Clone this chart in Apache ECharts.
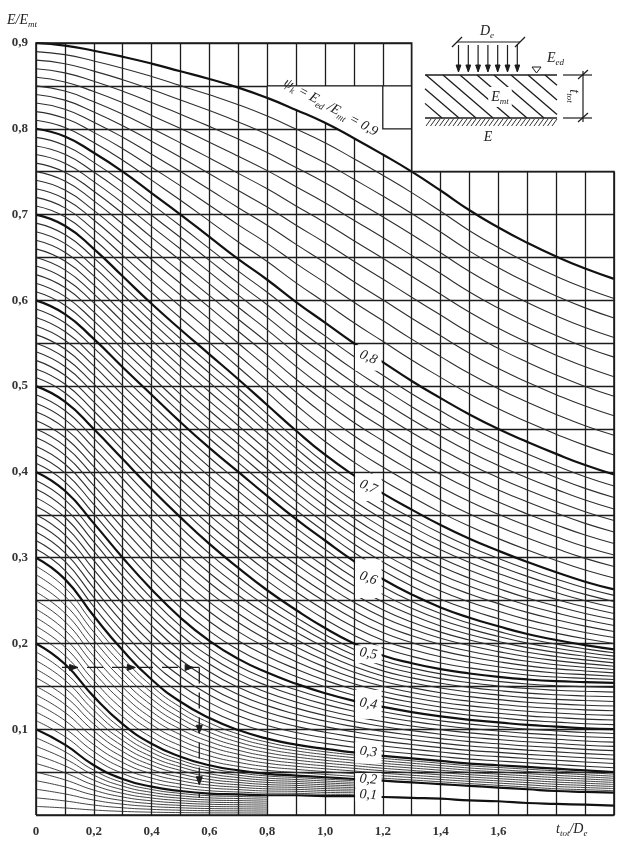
<!DOCTYPE html>
<html>
<head>
<meta charset="utf-8">
<title>E/Emt - ttot/De</title>
<script src="https://cdn.jsdelivr.net/npm/echarts@6/dist/echarts.min.js"></script>
<style>
html, body { margin: 0; padding: 0; background: #fff; }
#main { width: 632px; height: 851px; }
</style>
</head>
<body>
<div id="main"></div>
<script>
//=============== values ===============
// t_tot / D_e
var xs = [0, 0.1, 0.2, 0.3, 0.4, 0.5, 0.6, 0.7, 0.8, 0.9, 1.0, 1.1, 1.2, 1.3, 1.4, 1.5, 1.6, 1.7, 1.8, 1.9, 2.0];

// E / E_mt for the printed curves psi_k = 0,9 ... 0,1
var psi09 = [0.900, 0.897, 0.891, 0.884, 0.876, 0.867, 0.858, 0.848, 0.836, 0.822, 0.807, 0.789, 0.770, 0.750, 0.728, 0.705, 0.685, 0.667, 0.651, 0.637, 0.625];
var psi08 = [0.800, 0.791, 0.772, 0.750, 0.725, 0.700, 0.674, 0.648, 0.624, 0.598, 0.574, 0.550, 0.528, 0.506, 0.486, 0.467, 0.450, 0.435, 0.421, 0.408, 0.397];
var psi07 = [0.700, 0.687, 0.660, 0.628, 0.596, 0.566, 0.537, 0.508, 0.478, 0.448, 0.420, 0.396, 0.375, 0.356, 0.338, 0.322, 0.308, 0.295, 0.283, 0.272, 0.263];
var psi06 = [0.600, 0.584, 0.555, 0.522, 0.490, 0.458, 0.428, 0.400, 0.372, 0.345, 0.320, 0.296, 0.275, 0.257, 0.242, 0.230, 0.220, 0.211, 0.204, 0.198, 0.193];
var psi05 = [0.500, 0.482, 0.450, 0.415, 0.380, 0.347, 0.316, 0.288, 0.262, 0.239, 0.218, 0.200, 0.186, 0.177, 0.170, 0.165, 0.161, 0.158, 0.156, 0.155, 0.154];
var psi04 = [0.400, 0.378, 0.340, 0.300, 0.263, 0.230, 0.203, 0.182, 0.166, 0.153, 0.142, 0.133, 0.126, 0.120, 0.115, 0.111, 0.108, 0.105, 0.103, 0.101, 0.100];
var psi03 = [0.300, 0.275, 0.232, 0.192, 0.158, 0.132, 0.113, 0.099, 0.089, 0.082, 0.077, 0.073, 0.069, 0.066, 0.063, 0.060, 0.058, 0.056, 0.054, 0.052, 0.050];
var psi02 = [0.200, 0.176, 0.138, 0.106, 0.083, 0.068, 0.058, 0.052, 0.048, 0.046, 0.044, 0.042, 0.040, 0.038, 0.036, 0.034, 0.032, 0.030, 0.028, 0.027, 0.026];
var psi01 = [0.100, 0.082, 0.058, 0.042, 0.033, 0.028, 0.025, 0.024, 0.023, 0.023, 0.022, 0.022, 0.021, 0.020, 0.019, 0.017, 0.016, 0.014, 0.013, 0.012, 0.011];

var curveLabels = ['0,1', '0,2', '0,3', '0,4', '0,5', '0,6', '0,7', '0,8'];
var xTickLabels = ['0', '0,2', '0,4', '0,6', '0,8', '1,0', '1,2', '1,4', '1,6'];
var yTickLabels = ['0,1', '0,2', '0,3', '0,4', '0,5', '0,6', '0,7', '0,8', '0,9'];

// worked example drawn with arrows
var exampleE = 0.172;
var exampleT = 0.565;

//=============== chart ===============
var ink = '#1c1c1c';
var serif = '"Liberation Serif", "DejaVu Serif", serif';
var thick = [psi01, psi02, psi03, psi04, psi05, psi06, psi07, psi08, psi09];
var zero = xs.map(function () { return 0; });
var bands = [zero].concat(thick);
// the intermediate 0,01 lines of the two lowest bands stop where they crowd together
var thinEnd = [0.8, 1.1, 2, 2, 2, 2, 2, 2, 2];

function curve(pts, w, col) {
    return {
        type: 'line',
        data: pts,
        smooth: true,
        symbol: 'none',
        silent: true,
        z: 2,
        lineStyle: { color: col, width: w }
    };
}

var series = [];
for (var b = 0; b < 9; b++) {
    var lo = bands[b], hi = bands[b + 1];
    for (var k = 1; k <= 9; k++) {
        var pts = [];
        for (var i = 0; i < xs.length; i++) {
            if (xs[i] > thinEnd[b] + 1e-9) break;
            pts.push([xs[i], lo[i] + (hi[i] - lo[i]) * k / 10]);
        }
        series.push(curve(pts, b < 3 ? 0.9 : 1.1, '#2e2e2e'));
    }
    series.push(curve(xs.map(function (x, i) { return [x, hi[i]]; }), 2.2, '#111'));
}

var dom = document.getElementById('main');
var myChart = echarts.init(dom);
var option = {
    animation: false,
    backgroundColor: '#fff',
    grid: { left: 36, right: 18, top: 43, bottom: 36 },
    xAxis: {
        type: 'value', min: 0, max: 2, interval: 0.1,
        axisLine: { show: false }, axisTick: { show: false },
        axisLabel: {
            margin: 10, fontFamily: serif, fontSize: 13, fontWeight: 'bold', color: '#333',
            formatter: function (v) {
                var k = Math.round(v * 10);
                if (k % 2 || k > 16) return '';
                return xTickLabels[k / 2];
            }
        },
        splitLine: { show: true, lineStyle: { color: ink, width: 1.3 } }
    },
    yAxis: {
        type: 'value', min: 0, max: 0.9, interval: 0.05,
        axisLine: { show: false }, axisTick: { show: false },
        axisLabel: {
            margin: 8, fontFamily: serif, fontSize: 13, fontWeight: 'bold', color: '#333',
            formatter: function (v) {
                var k = Math.round(v * 100);
                if (k % 10 || k === 0) return '';
                return yTickLabels[k / 10 - 1];
            }
        },
        splitLine: { show: true, lineStyle: { color: ink, width: 1.3 } }
    },
    series: series
};
myChart.setOption(option);

//=============== overlays ===============
function P(x, y) { return myChart.convertToPixel({ gridIndex: 0 }, [x, y]); }
var els = [];
function line(pts, w, z, dash) {
    els.push({ type: 'polyline', silent: true, z: z, shape: { points: pts },
        style: { stroke: ink, lineWidth: w, fill: null, lineDash: dash || null } });
}
function tri(pts, z, fill) {
    els.push({ type: 'polygon', silent: true, z: z, shape: { points: pts },
        style: { fill: fill || ink, stroke: ink, lineWidth: 1 } });
}
function text(x, y, str, rich, opt) {
    opt = opt || {};
    els.push({ type: 'text', silent: true, z: opt.z || 12, x: x, y: y, rotation: opt.rot || 0,
        style: { text: str, rich: rich, align: opt.align || 'center', verticalAlign: 'middle',
            fill: '#222', fontFamily: serif, fontStyle: 'italic', fontSize: 14,
            backgroundColor: opt.bg || null, padding: opt.pad || 0 } });
}
var rich = {
    i: { fontFamily: serif, fontStyle: 'italic', fontSize: 14, fill: '#222', lineHeight: 18 },
    s: { fontFamily: serif, fontStyle: 'italic', fontSize: 9, fill: '#222', verticalAlign: 'bottom' }
};

// blank area top right (no grid behind the sketch)
var a = P(1.3, 0.9), c = P(2.0, 0.75);
els.push({ type: 'rect', silent: true, z: 1,
    shape: { x: a[0], y: a[1] - 5, width: c[0] - a[0] + 5, height: c[1] - a[1] + 5 },
    style: { fill: '#fff' } });
// blank area above the 0,9 curve where its label sits
var zone = [P(0.8, 0.85), P(1.3, 0.85)];
for (var j = xs.length - 1; j >= 0; j--) {
    if (xs[j] > 0.79 && xs[j] < 1.31) zone.push(P(xs[j], psi09[j]));
}
els.push({ type: 'polygon', silent: true, z: 1, shape: { points: zone }, style: { fill: '#fff' } });

// frame
line([P(0, 0), P(0, 0.9), P(1.3, 0.9), P(1.3, 0.75), P(2, 0.75), P(2, 0), P(0, 0)], 1.6, 3);
line([P(0.8, 0.85), P(1.3, 0.85)], 1.3, 3);
line([P(0.8, 0.85), P(0.8, 0.836)], 1.3, 3);
line([P(1.2, 0.85), P(1.2, 0.8), P(1.3, 0.8)], 1.3, 3);

// white label boxes in the 1,1..1,2 column
var boxes = [[0.016, 0.031, 4], [0.033, 0.050, 5], [0.060, 0.087, 8], [0.112, 0.147, 10],
    [0.177, 0.199, 10], [0.253, 0.299, 20], [0.366, 0.399, 24], [0.518, 0.549, 24]];
boxes.forEach(function (bx, n) {
    var p0 = P(1.1, bx[1]), p1 = P(1.2, bx[0]);
    els.push({ type: 'rect', silent: true, z: 10,
        shape: { x: p0[0] + 1.2, y: p0[1] + 1, width: p1[0] - p0[0] - 2.4, height: p1[1] - p0[1] - 1 },
        style: { fill: '#fff' } });
    text((p0[0] + p1[0]) / 2, (p0[1] + p1[1]) / 2, '{i|' + curveLabels[n] + '}', rich,
        { rot: -bx[2] * Math.PI / 180 });
});

// psi_k label along the top curve
var pl = P(1.02, 0.825);
text(pl[0], pl[1], '{i|ψ}{s|k}{i| = E}{s|ed}{i| /E}{s|mt}{i| = 0,9}', rich, { rot: -29 * Math.PI / 180 });

// axis names
text(7, 20, '{i|E/E}{s|mt}', rich, { align: 'left' });
text(556, 829, '{i|t}{s|tot}{i|/D}{s|e}', rich, { align: 'left' });

// worked example: across at E/Emt, then down to t_tot/De
var ey = P(0, exampleE)[1], ex = P(exampleT, 0)[0];
line([P(0.09, exampleE), [ex, ey]], 1.3, 6, [16, 9]);
line([[ex, ey], P(exampleT, 0.02)], 1.3, 6, [16, 9]);
[0.13, 0.33, 0.53].forEach(function (t) {
    var q = P(t, exampleE);
    tri([[q[0] + 4, q[1]], [q[0] - 4, q[1] - 3], [q[0] - 4, q[1] + 3]], 6);
});
[0.10, 0.04].forEach(function (e) {
    var q = P(exampleT, e);
    tri([[q[0], q[1] + 4], [q[0] - 3, q[1] - 4], [q[0] + 3, q[1] - 4]], 6);
});

// sketch of the layer system (top right)
var L = 425, R = 557, T = 75, B = 118;
line([[457, 42], [520, 42]], 1.2, 5);
line([[452, 47], [462, 37]], 1.2, 5);
line([[515, 47], [525, 37]], 1.2, 5);
for (var q = 0; q < 7; q++) {
    var ax = 458.5 + q * 9.8;
    line([[ax, 45], [ax, 66]], 1.2, 5);
    tri([[ax - 2.4, 65], [ax + 2.4, 65], [ax, 72]], 5);
}
text(487, 31, '{i|D}{s|e}', rich, { z: 6 });
line([[L, T], [R, T]], 1.7, 5);
line([[L, B], [R, B]], 1.7, 5);
for (var h = L - 50; h < R; h += 17) {
    var x0 = h, y0 = T, x1 = h + 50, y1 = B;
    if (x0 < L) { y0 = T + (L - x0) * (B - T) / 50; x0 = L; }
    if (x1 > R) { y1 = T + (R - h) * (B - T) / 50; x1 = R; }
    if (x1 > x0) line([[x0, y0], [x1, y1]], 1.3, 5);
}
for (var g = L + 1; g < R - 3; g += 4.5) line([[g, B + 8], [g + 5, B + 1]], 0.9, 5);
tri([[532, 67], [541, 67], [536.5, 73]], 5, '#fff');
text(547, 58, '{i|E}{s|ed}', rich, { align: 'left', z: 6 });
text(500, 97, '{i|E}{s|mt}', rich, { z: 6, bg: '#fff', pad: [1, 3] });
text(488, 137, '{i|E}', rich, { z: 6 });
line([[563, T], [592, T]], 1.2, 5);
line([[563, B], [592, B]], 1.2, 5);
line([[583, T - 4], [583, B + 4]], 1.2, 5);
line([[578, T + 4], [588, T - 5]], 1.2, 5);
line([[578, B + 4], [588, B - 5]], 1.2, 5);
text(574, 96, '{i|t}{s|tot}', rich, { z: 6, rot: -Math.PI / 2 });

myChart.setOption({ graphic: { elements: els } });
</script>
</body>
</html>
